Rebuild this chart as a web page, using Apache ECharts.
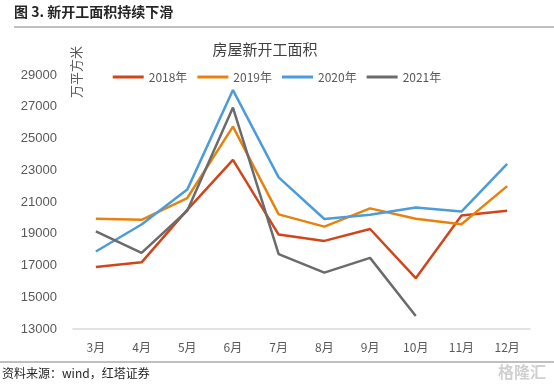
<!DOCTYPE html>
<html><head><meta charset="utf-8">
<script src="https://cdn.jsdelivr.net/npm/echarts@6/dist/echarts.min.js"></script>
<style>html,body{margin:0;padding:0;background:#fff}#c{width:554px;height:385px}</style>
</head><body><div id="c"></div>
<script>
var categories = ['3月','4月','5月','6月','7月','8月','9月','10月','11月','12月'];
var s2018 = [16900, 17200, 20500, 23650, 18950, 18550, 19300, 16200, 20150, 20450];
var s2019 = [19950, 19880, 21250, 25750, 20220, 19450, 20600, 19950, 19600, 22000];
var s2020 = [17880, 19580, 21780, 28050, 22550, 19930, 20200, 20650, 20400, 23400];
var s2021 = [19150, 17800, 20450, 26950, 17720, 16550, 17480, 13820];
var yTicks = {min: 13000, max: 29000, interval: 2000};

var chart = echarts.init(document.getElementById('c'));
function ser(name, data, color){
  return {name: name, type: 'line', data: data, symbol: 'none', smooth: false,
    lineStyle: {width: 2.5, color: color}, itemStyle: {color: color}};
}
var font = '"Noto Sans CJK SC", "Noto Sans", sans-serif';
chart.setOption({
  animation: false,
  textStyle: {fontFamily: font},
  title: {text: '房屋新开工面积', left: 260, textAlign: 'center', top: 37, textStyle: {fontSize: 15, fontWeight: 'normal', color: '#404040', fontFamily: font}},
  legend: {top: 66, left: 'center', itemWidth: 31, itemHeight: 3, itemGap: 10, icon: 'rect',
    textStyle: {fontSize: 12, color: '#595959'}, data: ['2018年','2019年','2020年','2021年']},
  grid: {left: 73, right: 24, top: 75, bottom: 56},
  xAxis: {type: 'category', data: categories, boundaryGap: true,
    axisLine: {lineStyle: {color: '#d9d9d9', width: 1.5}}, axisTick: {show: false},
    axisLabel: {color: '#595959', fontSize: 12, margin: 12}},
  yAxis: {type: 'value', min: yTicks.min, max: yTicks.max, interval: yTicks.interval,
    axisLine: {show: false}, axisTick: {show: false}, splitLine: {show: false},
    axisLabel: {color: '#595959', fontSize: 13, margin: 16, formatter: function(v){ return String(v); },
      fontFamily: 'Liberation Sans, Arial, sans-serif'}},
  series: [
    ser('2018年', s2018, '#D0461C'),
    ser('2019年', s2019, '#E8820E'),
    ser('2020年', s2020, '#4C9BDB'),
    ser('2021年', s2021, '#6B6B6B')
  ],
  graphic: [
    {type: 'text', left: 14, top: 5, style: {text: '图 3. 新开工面积持续下滑', font: 'bold 14px ' + font, fill: '#262626'}},
    {type: 'line', shape: {x1: 14, y1: 27, x2: 554, y2: 27}, style: {stroke: '#808080', lineWidth: 1}},
    {type: 'text', x: 76, y: 72, rotation: Math.PI / 2,
      style: {text: '万平方米', font: '13px ' + font, fill: '#595959', align: 'center', verticalAlign: 'middle'}},
    {type: 'line', shape: {x1: 0, y1: 362, x2: 554, y2: 362}, style: {stroke: '#808080', lineWidth: 1}},
    {type: 'text', left: 2, top: 367, style: {text: '资料来源：wind，红塔证券', font: '12px ' + font, fill: '#262626'}},
    {type: 'text', right: 8, top: 364, style: {text: '格隆汇', font: 'bold 16px ' + font, fill: '#d0d0d0'}}
  ]
});
</script></body></html>
